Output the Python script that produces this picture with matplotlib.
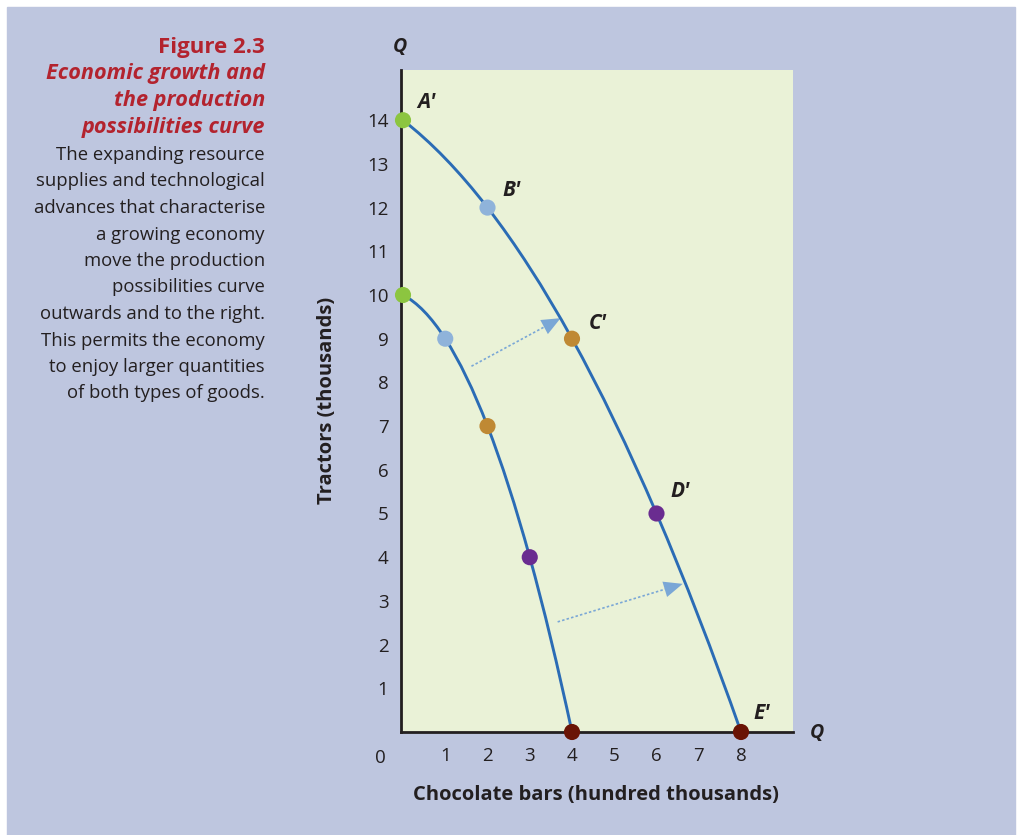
import numpy as np
import matplotlib
matplotlib.use("Agg")
import matplotlib.pyplot as plt
from matplotlib.path import Path
from matplotlib.patches import PathPatch, Rectangle, FancyArrowPatch

plt.rcParams['font.family'] = ['Open Sans', 'DejaVu Sans']

# Data
ppc_x = [0, 1, 2, 3, 4]            # original curve, chocolate bars
ppc_y = [10, 9, 7, 4, 0]           # tractors
ppc2_x = [0, 2, 4, 6, 8]           # shifted curve
ppc2_y = [14, 12, 9, 5, 0]
point_colors = ['#8cc540', '#8fb3da', '#bf8934', '#6a2c90', '#6a1405']
point_labels = ["A\u2032", "B\u2032", "C\u2032", "D\u2032", "E\u2032"]
x_ticks = [1, 2, 3, 4, 5, 6, 7, 8]
y_ticks = list(range(1, 15))
arrows = [((1.62, 8.37), (3.73, 9.47)), ((3.66, 2.52), (6.62, 3.39))]

caption_title = "Figure 2.3"
caption_sub = ["Economic growth and", "the production", "possibilities curve"]
caption_body = ["The expanding resource", "supplies and technological",
                "advances that characterise", "a growing economy",
                "move the production", "possibilities curve",
                "outwards and to the right.", "This permits the economy",
                "to enjoy larger quantities", "of both types of goods."]

BG = '#bec6df'
PLOT_BG = '#eaf2d7'
CURVE = '#2b6cb5'
RED = '#b3232e'
DARK = '#231f20'
ARROW = '#7aa7d6'
W, H = 1017, 835


def smooth_path(xs, ys):
    # cubic bezier through the points, catmull-rom style tangents
    p = np.column_stack([xs, ys]).astype(float)
    n = len(p)
    t = np.zeros_like(p)
    for i in range(1, n - 1):
        t[i] = (p[i + 1] - p[i - 1]) / 2
    t[0] = 2 * (p[1] - p[0]) - t[1]
    t[-1] = 2 * (p[-1] - p[-2]) - t[-2]
    verts = [p[0]]
    codes = [Path.MOVETO]
    for i in range(n - 1):
        verts += [p[i] + t[i] / 3, p[i + 1] - t[i + 1] / 3, p[i + 1]]
        codes += [Path.CURVE4] * 3
    return Path(verts, codes)


fig = plt.figure(figsize=(W / 100, H / 100), dpi=100)
fig.patch.set_facecolor('white')
fig.patches.append(Rectangle((7 / W, 0), (1015 - 7) / W, (H - 7) / H,
                             transform=fig.transFigure, color=BG, zorder=-10))

x0, y0, x1, y1 = 401, 732, 793, 70
ax = fig.add_axes([x0 / W, 1 - y0 / H, (x1 - x0) / W, (y0 - y1) / H])
ax.set_facecolor(PLOT_BG)
ax.set_xlim(-2 / 42.25, (x1 - 403) / 42.25)
ax.set_ylim(0, (y0 - y1) / 43.7)
for s in ['top', 'right']:
    ax.spines[s].set_visible(False)
for s in ['left', 'bottom']:
    ax.spines[s].set_linewidth(2.0)
    ax.spines[s].set_color(DARK)
    ax.spines[s].set_zorder(3)

ax.set_xticks(x_ticks)
ax.set_yticks(y_ticks)
ax.tick_params(length=0, labelsize=13.5, labelcolor=DARK)
ax.tick_params(axis='x', pad=11)
ax.tick_params(axis='y', pad=9)
ax.text(-0.53, -0.6, "0", ha='center', va='center', fontsize=13.5, color=DARK)

# curves
for xs, ys in [(ppc_x, ppc_y), (ppc2_x, ppc2_y)]:
    ax.add_patch(PathPatch(smooth_path(xs, ys), fill=False, edgecolor=CURVE,
                           lw=2.1, zorder=4, capstyle='round'))
    ax.scatter(xs, ys, s=135, c=point_colors, zorder=5, clip_on=False,
               linewidths=0)

# point labels on the outer curve
label_off = [(0.55, 0.4), (0.58, 0.4), (0.6, 0.35), (0.55, 0.5), (0.5, 0.42)]
for x, y, lab, (dx, dy) in zip(ppc2_x, ppc2_y, point_labels, label_off):
    ax.text(x + dx, y + dy, lab, ha='center', va='center', fontsize=15,
            fontweight='bold', fontstyle='italic', color=DARK)

# dotted shift arrows
for (sx, sy), (ex, ey) in arrows:
    ax.plot([sx, ex - 0.08 * (ex - sx)], [sy, ey - 0.08 * (ey - sy)],
            ls=(0, (1.5, 1.3)), lw=1.2, color=ARROW, zorder=2)
    ax.add_patch(FancyArrowPatch((ex - 0.2 * (ex - sx), ey - 0.2 * (ey - sy)),
                                 (ex, ey), arrowstyle='-|>,head_length=0.75,head_width=0.32',
                                 mutation_scale=18, lw=0, color=ARROW,
                                 shrinkA=0, shrinkB=0, zorder=2))

# axis labels
fig.text(400 / W, 1 - 47 / H, "Q", ha='center', va='center', fontsize=14,
         fontweight='bold', fontstyle='italic', color=DARK)
fig.text(817 / W, 1 - 733 / H, "Q", ha='center', va='center', fontsize=14,
         fontweight='bold', fontstyle='italic', color=DARK)
fig.text(327 / W, 1 - 400 / H, "Tractors (thousands)", rotation=90,
         ha='center', va='center', fontsize=14.5, fontweight='bold', color=DARK)
fig.text(596 / W, 1 - 795 / H, "Chocolate bars (hundred thousands)",
         ha='center', va='center', fontsize=14.5, fontweight='bold', color=DARK)

# caption on the left
fig.text(265 / W, 1 - 47 / H, caption_title, ha='right', va='center',
         fontsize=16, fontweight='bold', color=RED)
for i, line in enumerate(caption_sub):
    fig.text(265 / W, 1 - (74 + 26.7 * i) / H, line, ha='right', va='center',
             fontsize=15.6, fontweight='bold', fontstyle='italic', color=RED)
for i, line in enumerate(caption_body):
    fig.text(265 / W, 1 - (155 + 26.5 * i) / H, line, ha='right', va='center',
             fontsize=13.3, color=DARK)

fig.savefig("out.png", dpi=100, facecolor=fig.get_facecolor())
